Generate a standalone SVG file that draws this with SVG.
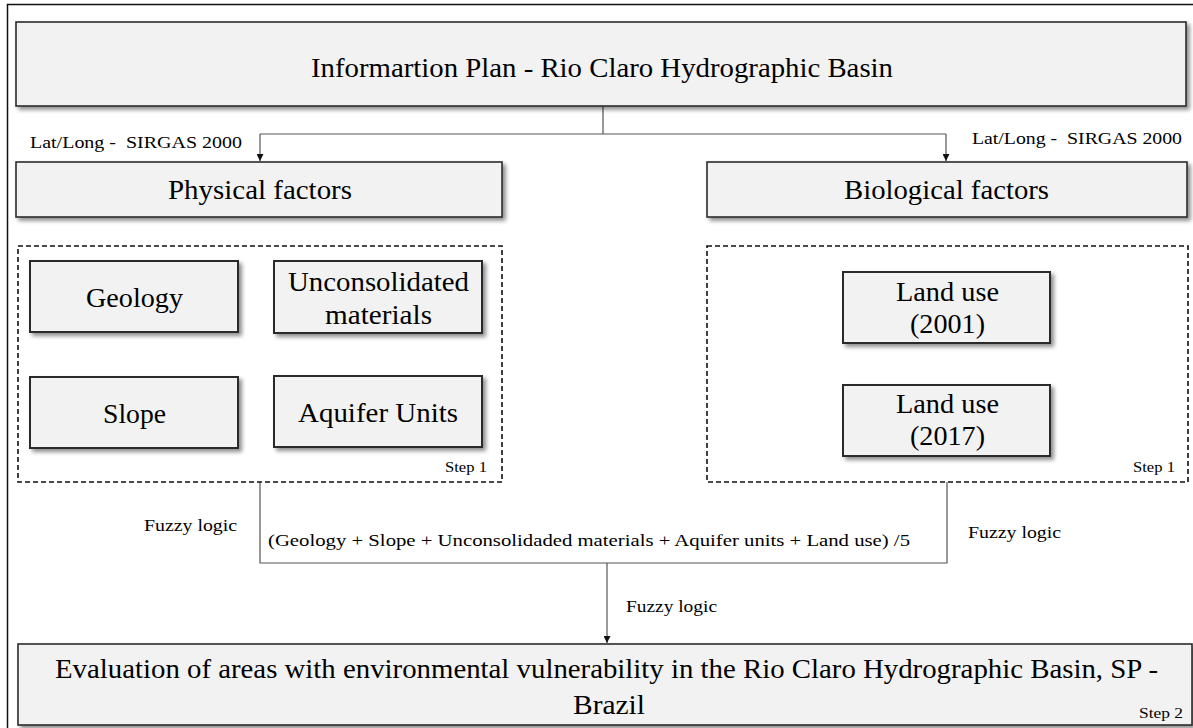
<svg xmlns="http://www.w3.org/2000/svg" width="1193" height="728" viewBox="0 0 1193 728">
<style>
text{font-family:"Liberation Serif","Times New Roman",serif;fill:#000}
.box{fill:#f2f2f2;stroke:#2a2a2a;stroke-width:1.6;filter:url(#sh)}
.ibox{fill:#f2f2f2;stroke:#2a2a2a;stroke-width:2;filter:url(#sh)}
.dash{fill:none;stroke:#111;stroke-width:1.6;stroke-dasharray:5 3}
.con{fill:none;stroke:#555;stroke-width:1.2}
.big{font-size:28px}
.mid{font-size:27px}
.ev{font-size:28px}
.sm{font-size:16px}
.xs{font-size:15px}
</style>
<defs>
<filter id="sh" x="-10%" y="-20%" width="130%" height="160%">
<feGaussianBlur in="SourceAlpha" stdDeviation="2"/>
<feOffset dx="2.5" dy="3" result="b"/>
<feComponentTransfer><feFuncA type="linear" slope="0.45"/></feComponentTransfer>
<feMerge><feMergeNode/><feMergeNode in="SourceGraphic"/></feMerge>
</filter>
<marker id="ar" viewBox="0 0 10 10" refX="10" refY="5" markerWidth="7" markerHeight="7" orient="auto" markerUnits="userSpaceOnUse">
<path d="M0,0 L10,5 L0,10 z" fill="#111"/>
</marker>
</defs>
<path d="M7.5,735 V4.5 H1193" fill="none" stroke="#111" stroke-width="1.5"/>

<g id="connectors">
<path class="con" d="M603,106 V134 M260,134 H946"/>
<path class="con" d="M260,134 V161" marker-end="url(#ar)"/>
<path class="con" d="M946,134 V161" marker-end="url(#ar)"/>
<path class="con" d="M260,482 V563 H947 V482"/>
<path class="con" d="M607,563 V643" marker-end="url(#ar)"/>
<text class="sm" x="30" y="148" textLength="212" lengthAdjust="spacingAndGlyphs" xml:space="preserve">Lat/Long -  SIRGAS 2000</text>
<text class="sm" x="972" y="144" textLength="210" lengthAdjust="spacingAndGlyphs" xml:space="preserve">Lat/Long -  SIRGAS 2000</text>
<text class="sm" x="144" y="531" textLength="93" lengthAdjust="spacingAndGlyphs">Fuzzy logic</text>
<text class="sm" x="968" y="538" textLength="93" lengthAdjust="spacingAndGlyphs">Fuzzy logic</text>
<text class="sm" x="626" y="612" textLength="91" lengthAdjust="spacingAndGlyphs">Fuzzy logic</text>
<text class="sm" x="268" y="546" textLength="642" lengthAdjust="spacingAndGlyphs">(Geology + Slope + Unconsolidaded materials + Aquifer units + Land use) /5</text>
</g>

<g id="top">
<rect class="box" x="16" y="22" width="1170" height="84"/>
<text class="big" x="311" y="77" textLength="582" lengthAdjust="spacingAndGlyphs">Informartion Plan - Rio Claro Hydrographic Basin</text>
</g>

<g id="physical">
<rect class="box" x="16" y="162" width="486" height="55"/>
<text class="mid" x="168" y="199" textLength="184" lengthAdjust="spacingAndGlyphs">Physical factors</text>
</g>

<g id="biological">
<rect class="box" x="707" y="162" width="480" height="55"/>
<text class="mid" x="844" y="199" textLength="205" lengthAdjust="spacingAndGlyphs">Biological factors</text>
</g>

<g id="physical-group">
<rect class="dash" x="18" y="246" width="484" height="236"/>
<text class="xs" x="445" y="472" textLength="42" lengthAdjust="spacingAndGlyphs">Step 1</text>
</g>

<g id="geology">
<rect class="ibox" x="30" y="261" width="208" height="71"/>
<text class="mid" x="86" y="307" textLength="97" lengthAdjust="spacingAndGlyphs">Geology</text>
</g>
<g id="unconsolidated">
<rect class="ibox" x="274" y="261" width="208" height="72"/>
<text class="mid" x="288" y="291" textLength="181" lengthAdjust="spacingAndGlyphs">Unconsolidated</text>
<text class="mid" x="325" y="324" textLength="107" lengthAdjust="spacingAndGlyphs">materials</text>
</g>
<g id="slope">
<rect class="ibox" x="30" y="377" width="208" height="71"/>
<text class="mid" x="103" y="423" textLength="63" lengthAdjust="spacingAndGlyphs">Slope</text>
</g>
<g id="aquifer">
<rect class="ibox" x="274" y="376" width="208" height="71"/>
<text class="mid" x="298" y="422" textLength="160" lengthAdjust="spacingAndGlyphs">Aquifer Units</text>
</g>

<g id="biological-group">
<rect class="dash" x="707" y="246" width="481" height="236"/>
<text class="xs" x="1133" y="472" textLength="42" lengthAdjust="spacingAndGlyphs">Step 1</text>
</g>
<g id="landuse2001">
<rect class="ibox" x="843" y="272" width="207" height="71"/>
<text class="mid" x="896" y="301" textLength="103" lengthAdjust="spacingAndGlyphs">Land use</text>
<text class="mid" x="910" y="333" textLength="75" lengthAdjust="spacingAndGlyphs">(2001)</text>
</g>
<g id="landuse2017">
<rect class="ibox" x="843" y="385" width="207" height="71"/>
<text class="mid" x="896" y="413" textLength="103" lengthAdjust="spacingAndGlyphs">Land use</text>
<text class="mid" x="910" y="445" textLength="75" lengthAdjust="spacingAndGlyphs">(2017)</text>
</g>

<g id="evaluation">
<rect class="box" x="18" y="644" width="1174" height="81"/>
<text class="ev" x="55" y="678" textLength="1103" lengthAdjust="spacingAndGlyphs">Evaluation of areas with environmental vulnerability in the Rio Claro Hydrographic Basin, SP -</text>
<text class="ev" x="573" y="714" textLength="72" lengthAdjust="spacingAndGlyphs">Brazil</text>
<text class="xs" x="1139" y="718" textLength="44" lengthAdjust="spacingAndGlyphs">Step 2</text>
</g>
</svg>
